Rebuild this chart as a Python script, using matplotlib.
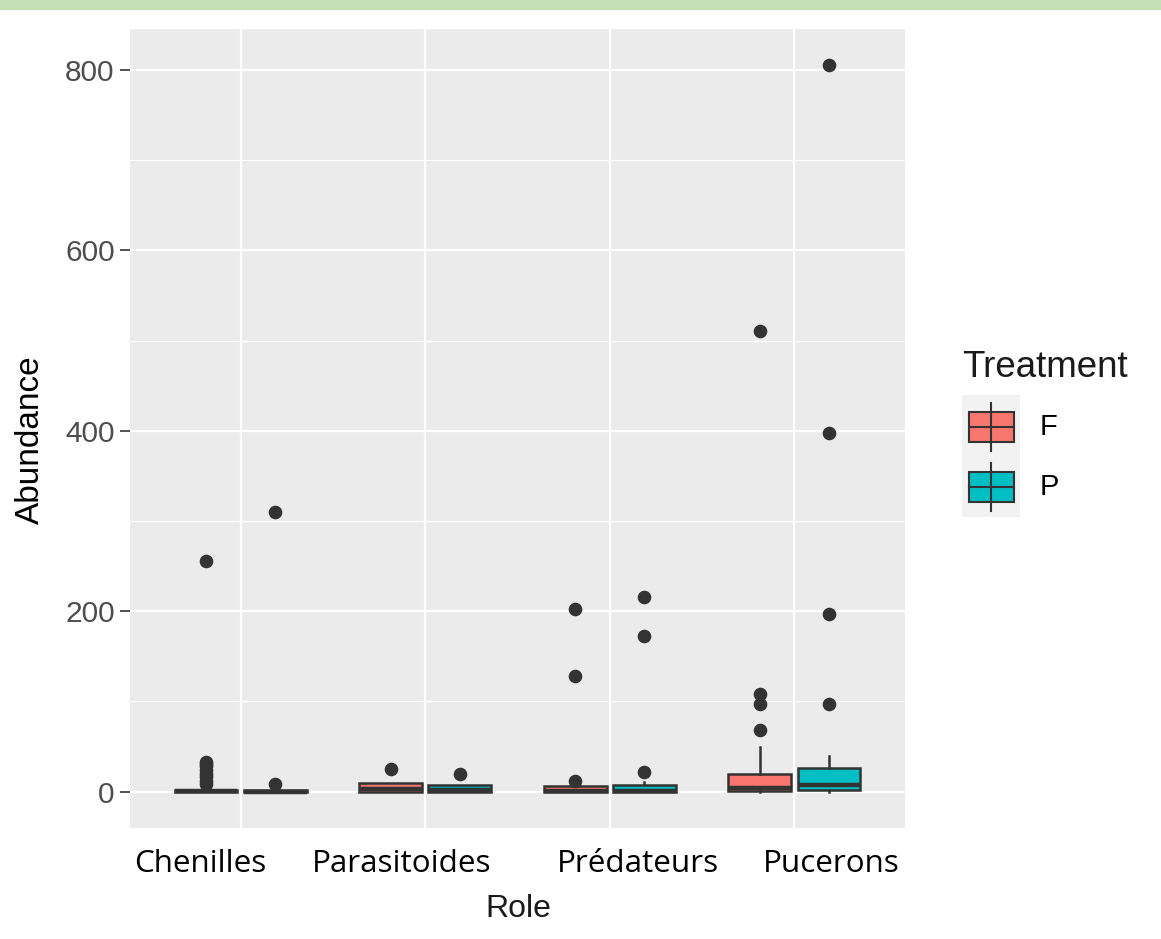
import matplotlib.pyplot as plt
from matplotlib.patches import Rectangle

roles = ['Chenilles', 'Parasitoides', 'Prédateurs', 'Pucerons']
treatments = ['F', 'P']
colors = {'F': '#F8766D', 'P': '#00BFC4'}

# box statistics
q1 = {'F': [0, 0, 0, 1], 'P': [0, 0, 0, 2]}
med = {'F': [1, 3, 1, 4], 'P': [0, 2, 1, 7]}
q3 = {'F': [2, 10, 6, 20], 'P': [2, 7, 7, 26]}
whislo = {'F': [0, 0, 0, 0], 'P': [0, 0, 0, 0]}
whishi = {'F': [4, 10, 8, 49], 'P': [5, 7, 11, 40]}
fliers = {
    'F': [[8, 12, 16, 20, 24, 28, 31, 33, 256], [25], [12, 128, 202], [68, 97, 108, 511]],
    'P': [[9, 310], [20], [22, 173, 216], [97, 197, 397, 805]],
}

yticks = [0, 200, 400, 600, 800]

fig = plt.figure(figsize=(11.61, 9.39), dpi=100)
fig.patches.append(Rectangle((0, 1 - 9 / 939), 1, 9 / 939, transform=fig.transFigure,
                             color='#C5E0B4', zorder=0))

ax = fig.add_axes([130 / 1161, 1 - 828 / 939, 775 / 1161, 799 / 939])
ax.set_facecolor('#EBEBEB')
for s in ax.spines.values():
    s.set_visible(False)

for y in yticks:
    ax.axhline(y, color='white', lw=1.6, zorder=0)
for y in [100, 300, 500, 700]:
    ax.axhline(y, color='white', lw=0.8, zorder=0)
for i in range(len(roles)):
    ax.axvline(i + 1, color='white', lw=1.6, zorder=0)

offsets = {'F': -0.1875, 'P': 0.1875}
for t in treatments:
    stats = []
    for i in range(len(roles)):
        stats.append(dict(q1=q1[t][i], med=med[t][i], q3=q3[t][i],
                          whislo=whislo[t][i], whishi=whishi[t][i], fliers=fliers[t][i]))
    pos = [i + 1 + offsets[t] for i in range(len(roles))]
    ax.bxp(stats, positions=pos, widths=0.34, patch_artist=True, showcaps=False,
           boxprops=dict(facecolor=colors[t], edgecolor='#333333', linewidth=1.8),
           medianprops=dict(color='#333333', linewidth=3.2),
           whiskerprops=dict(color='#333333', linewidth=1.8),
           flierprops=dict(marker='o', markerfacecolor='#333333', markeredgecolor='#333333',
                           markersize=8.8))

ax.set_xlim(0.4, 4.6)
ax.set_ylim(-40.25, 845.25)
ax.set_yticks(yticks)
ax.set_yticklabels([str(v) for v in yticks], fontsize=21.5, color='#4D4D4D', family='Liberation Sans')
ax.tick_params(axis='y', length=7, width=1.2, color='#333333', pad=4)
ax.set_xticks([])

fig.text(30 / 1161, 1 - 440 / 939, 'Abundance', rotation=90, ha='center', va='center',
         fontsize=24, family='Liberation Sans')

label_x = [200, 402, 638, 831]
for name, x in zip(roles, label_x):
    fig.text(x / 1161, 1 - 872 / 939, name, ha='center', va='baseline', fontsize=22.6,
             family='Open Sans')
fig.text(518 / 1161, 1 - 917 / 939, 'Role', ha='center', va='baseline', fontsize=23,
         family='Liberation Sans', color='#1A1A1A')

# legend
fig.text(962 / 1161, 1 - 377 / 939, 'Treatment', ha='left', va='baseline', fontsize=26.5,
         family='Liberation Sans', color='#1A1A1A')
lg = fig.add_axes([962 / 1161, 1 - 517 / 939, 58 / 1161, 122 / 939])
lg.set_xlim(0, 58)
lg.set_ylim(517, 395)
lg.axis('off')
lg.add_patch(Rectangle((0, 395), 58, 122, color='#F2F2F2', zorder=0))
for t, yc in zip(treatments, [427, 487]):
    lg.plot([29, 29], [yc - 24, yc + 24], color='#333333', lw=1.5)
    lg.add_patch(Rectangle((7, yc - 15), 45, 30, facecolor=colors[t], edgecolor='#333333', lw=1.5))
    lg.plot([7, 52], [yc, yc], color='#333333', lw=1.5)
    fig.text(1040 / 1161, 1 - yc / 939, t, ha='left', va='center', fontsize=21,
             family='Liberation Sans')

fig.savefig('out.png', dpi=100)
